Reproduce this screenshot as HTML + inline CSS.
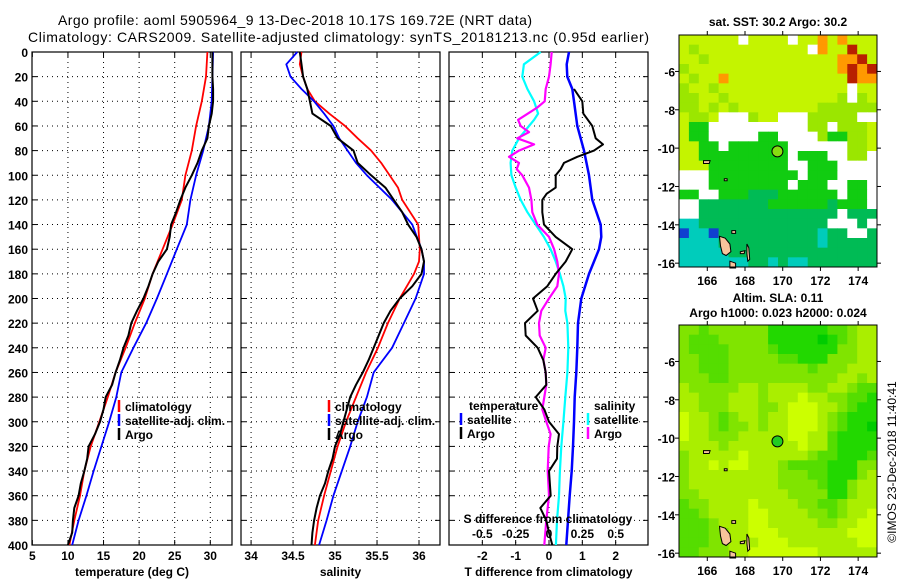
<!DOCTYPE html>
<html><head><meta charset="utf-8">
<style>
html,body{margin:0;padding:0;background:#fff;}
svg{display:block;font-family:"Liberation Sans",Arial,sans-serif;}
.t{font-size:12px;font-weight:bold;fill:#000;}
.ti{font-size:14px;fill:#000;}
</style></head>
<body>
<svg id="fig" width="900" height="580" viewBox="0 0 900 580" xmlns="http://www.w3.org/2000/svg">
<rect x="0" y="0" width="900" height="580" fill="#fff"/>
<text class="ti" x="58" y="25" textLength="474">Argo profile: aoml 5905964_9 13-Dec-2018 10.17S 169.72E (NRT data)</text>
<text class="ti" x="28" y="42" textLength="621">Climatology: CARS2009. Satellite-adjusted climatology: synTS_20181213.nc (0.95d earlier)</text>
<g id="plots"></g>
</svg>
<script>
// ---------------- data ----------------
const depthTicks = [0,20,40,60,80,100,120,140,160,180,200,220,240,260,280,300,320,340,360,380,400];
const tempTicks = [5,10,15,20,25,30];
const salTicks = [34,34.5,35,35.5,36];
const salTickLabels = ["34","34.5","35","35.5","36"];
const tdiffTicks = [-2,-1,0,1,2];
const sdiffTicks = [-0.5,-0.25,0,0.25,0.5];
const sdiffTickLabels = ["-0.5","-0.25","0","0.25","0.5"];

const climDepth = [0,20,40,60,80,100,120,140,160,180,200,220,240,260,280,300,320,340,360,380,400];
const tempClim = [29.6,29.4,28.8,28.0,27.4,26.5,26.0,24.7,23.3,21.9,20.8,19.4,18.1,16.7,15.6,14.4,13.2,12.3,11.7,10.9,10.2];
const tempSat = [30.4,30.3,30.2,29.8,29.0,28.0,27.2,26.7,25.3,23.9,22.5,21.0,19.2,17.5,16.8,15.8,14.7,13.6,12.6,11.5,10.6];
const argoDepth = [0,10,20,30,40,50,60,70,80,90,100,110,120,130,140,150,160,170,180,190,200,210,220,230,240,250,260,270,280,290,300,310,320,330,340,350,360,370,380,390,400];
const tempArgo = [30.3,30.3,30.3,30.4,30.4,30.2,29.8,29.6,28.8,28.2,27.4,26.5,25.8,25.2,24.5,24.3,23.9,22.7,21.9,21.3,20.6,19.7,18.9,18.5,17.8,17.3,16.7,16.2,15.3,15.0,14.5,13.8,12.9,12.7,12.3,11.8,11.5,10.9,10.7,10.6,10.0];

const salDepth = [0,10,20,30,40,50,60,70,80,90,100,110,120,140,160,170,180,200,220,240,260,280,300,320,340,360,380,400];
const salClim = [34.6,34.58,34.62,34.67,34.76,34.93,35.12,35.27,35.43,35.55,35.65,35.75,35.8,35.99,36.01,36.0,35.94,35.77,35.63,35.51,35.37,35.25,35.13,35.03,34.95,34.87,34.8,34.76];
const salSat = [34.55,34.42,34.47,34.6,34.75,34.87,34.98,35.05,35.15,35.25,35.38,35.53,35.68,35.92,36.03,36.06,36.06,35.96,35.82,35.68,35.46,35.38,35.27,35.18,35.08,34.98,34.9,34.81];
const salArgo = [34.58,34.6,34.62,34.67,34.7,34.73,34.95,35.03,35.22,35.27,35.43,35.6,35.7,35.8,35.87,35.97,36.03,36.06,36.03,35.92,35.77,35.66,35.58,35.52,35.46,35.4,35.33,35.25,35.18,35.14,35.1,35.06,35.0,34.97,34.92,34.88,34.82,34.78,34.75,34.73,34.72];

const tdiffSatDepth = [0,10,20,30,40,60,80,100,120,140,150,160,180,200,220,240,260,280,300,320,340,360,380,400];
const tdiffSat = [0.6,0.53,0.55,0.7,0.75,0.85,1.05,1.2,1.3,1.55,1.57,1.5,1.2,0.97,0.87,0.85,0.82,0.77,0.75,0.72,0.68,0.62,0.57,0.52];
const tdiffArgoDepth = [30,40,50,60,70,75,80,85,90,95,100,110,115,120,130,140,150,160,170,180,190,200,210,220,230,240,250,260,270,280,290,300,310,320,330,340,360,370,380,390,400];
const tdiffArgo = [0.75,1.0,1.03,1.3,1.4,1.62,1.35,0.85,0.45,0.35,0.2,0.2,-0.07,-0.2,-0.2,-0.15,0.2,0.7,0.5,0.2,-0.05,-0.48,-0.34,-0.72,-0.7,-0.34,-0.17,-0.1,-0.08,-0.4,-0.14,0,0.3,0.25,0.24,0,0.05,-0.26,-0.08,0,0.1];
const sdiffSatDepth = [0,10,20,30,40,50,55,60,70,80,90,100,110,120,130,140,150,160,170,180,190,200,210,220,240,260,280,300,320,340,360,380,400];
const sdiffSat = [-0.062,-0.188,-0.2,-0.162,-0.112,-0.082,-0.112,-0.15,-0.225,-0.275,-0.288,-0.282,-0.25,-0.212,-0.162,-0.1,-0.038,0.012,0.05,0.082,0.108,0.125,0.122,0.138,0.145,0.138,0.122,0.108,0.092,0.082,0.075,0.06,0.052];
const sdiffArgoDepth = [0,10,20,30,40,45,50,55,60,65,70,75,80,85,90,95,100,110,120,130,140,150,160,170,180,190,200,210,220,230,240,250,260,270,280,290,300,310,320,340,360,380,400];
const sdiffArgo = [0.02,0.012,0,-0.025,-0.032,-0.088,-0.158,-0.232,-0.212,-0.15,-0.238,-0.112,-0.225,-0.3,-0.225,-0.242,-0.2,-0.15,-0.132,-0.125,-0.088,0,0.038,0.062,0.075,0.062,0,-0.058,-0.075,-0.07,-0.025,-0.042,-0.025,-0.02,-0.035,-0.05,-0.02,0.012,-0.002,-0.01,0,-0.02,-0.035];

// map grids (rows north->south, cols west->east)
const sstGrid = [
"YYYYYYWYYYYWYYOYOYYY","YLYYYYYYYYYYYWOYYRYY","YYLYYYYYYYYYYYYYOORY","LYYYYYYYYYYYYYYYOROR",
"YLYYOYYYYYYYYYYYYROO","LYYLYYYYYYYYYYYYYWYY","LLYYLYYYYYYYYYYYLWLY","LLYLYLYYYYYYYYLLLLLL",
"YLLYWWWLYYWWWLLLLLWW","YGGWWWWWWWWWWLLWLLLY","YGGWWWWWGGWWWWLGGLLY","YYGGWGGGGGGWWWWWWLLY",
"YYGGGGGGGGGWGGGWWLLW","YYYGGGGGGGGWWGGGWWWW","WWWGGGGGGGGGWGGGWWWW","WWWGGGGGGGGWGGGWWGGW",
"GGWWGGGDDDGGGGGGWGGW","WWDDDDDDDGGGGGGDGGGW","WWDDDDDDDDDDDDDDWDDD","CCDDDDDDDDDDDDDWWWDW",
"BCCBDDDDDDDDDDCDDWWD","CCCCDDDDDDDDDDCDDDDD","CCCCCDDDDDDDDDDDDDDD","CCCCCCCDDCDCCDDDDDDD"];
const slaGrid = [
"MMGMMMMMMHHHHHHGGMLL","MGGGMMMMMHHHHHKHGMLL","MGGGGMMMMGHHHHHHMMLL","MMGGGMMMMMGGHHHMMMLL",
"MMGGGMMMMMMMMGMMMLLL","MMMGGMMMMMMMMMMMLLML","LMMMMMLLMLLLLMMLLMGG","LLMMMLLLMLLLYLLMMGGH",
"LLMMMLLLMMLYYYLLMGHH","YLLMGMLLMLLYYYLMGHHH","YLLMGMMLMLLYYYLMGHHK","YLLMMMLLLLLYYLLGHHHH",
"LLLLMLLLLLLLYLLGHHHH","MLLLLLYLLLLLLMGGHHHG","MLLYLYYLLLMGGGGHHHMM","MLLLLLLLLLMMMGGHHHML",
"MLLLLLLLLLMMMMGHHMLL","MMLLLLLLLLLMMMMHHMLL","GMMLLLLYLLLLMMGGMLLL","GGMLLLLYYLLLLMMGMLLY",
"GGGMLLLYYLLLLLMMLLYY","GGGMMLLYYYLLLLLLLYYY","GGGMMLLLYYYLLLLLLLYY","GGMMMLLYYYYYYYLLLLLL"];
const sstColors = {Y:"#c4f400",L:"#9be600",G:"#11cc11",D:"#00bb55",C:"#00ccbb",B:"#1040d0",O:"#ff9900",R:"#b82000",W:"#ffffff"};
const slaColors = {Y:"#ccff00",L:"#aaee00",M:"#80e400",G:"#55dd00",H:"#22d800",K:"#00cc00"};
const lonTicks = [166,168,170,172,174];
const latTicks = [-6,-8,-10,-12,-14,-16];
const argoLon = 169.72, argoLat = -10.17;

// ---------------- helpers ----------------
const NS = "http://www.w3.org/2000/svg";
const root = document.getElementById('plots');
function mk(tag, attrs, parent){
  const e = document.createElementNS(NS, tag);
  for (const k in attrs) e.setAttribute(k, attrs[k]);
  (parent||root).appendChild(e);
  return e;
}
function txt(x,y,s,anchor,cls,parent){
  const e = mk('text',{x:x,y:y,'text-anchor':anchor||'start','class':cls||'t'},parent);
  e.textContent = s; return e;
}
const Y0 = 52, Y1 = 545;
const yD = d => Y0 + (Y1-Y0)*d/400;

function panel(name, x0, x1, vmin, vmax, ticks, labels, title){
  const g = mk('g',{});
  
  
  const xs = v => x0 + (x1-x0)*(v-vmin)/(vmax-vmin);
  // grid
  depthTicks.forEach(d=>{
    if(d>0 && d<400){
      const l = mk('line',{x1:x0,x2:x1,y1:yD(d),y2:yD(d),stroke:'#000','stroke-width':1,'stroke-dasharray':'1,4'},g);
      
      
    }
    mk('line',{x1:x0,x2:x0+5,y1:yD(d),y2:yD(d),stroke:'#000'},g);
    mk('line',{x1:x1-5,x2:x1,y1:yD(d),y2:yD(d),stroke:'#000'},g);
  });
  ticks.forEach((v,i)=>{
    const x = xs(v);
    if (x>x0+2 && x<x1-2){
      const l = mk('line',{x1:x,x2:x,y1:Y0,y2:Y1,stroke:'#000','stroke-width':1,'stroke-dasharray':'1,4'},g);
      
      
    }
    mk('line',{x1:x,x2:x,y1:Y1-5,y2:Y1,stroke:'#000'},g);
    mk('line',{x1:x,x2:x,y1:Y0,y2:Y0+5,stroke:'#000'},g);
    const t = txt(x,560,labels[i],'middle','t',g);
    
    
  });
  const tt = txt((x0+x1)/2,576,title,'middle','t',g);
  
  
  const fr = mk('rect',{x:x0,y:Y0,width:x1-x0,height:Y1-Y0,fill:'none',stroke:'#000','stroke-width':1.2},g);
  
  
  return {g:g, xs:xs};
}
function series(p, depths, vals, color, w, name, scale){
  const k = scale||1;
  const pts = vals.map((v,i)=>p.xs(v*k).toFixed(1)+','+yD(depths[i]).toFixed(1)).join(' ');
  const l = mk('polyline',{points:pts,fill:'none',stroke:color,'stroke-width':w,'stroke-linejoin':'round'},p.g);
  
  
}
function legend(g, x, y, color, label, name){
  if(color){ mk('line',{x1:x,x2:x,y1:y-11,y2:y+1,stroke:color,'stroke-width':2.5},g); }
  const t = txt(x+6,y,label,'start','t',g);
  
  
}

// y labels
depthTicks.forEach(d=>{
  const t = txt(28, yD(d)+5, String(d), 'end');
  
  
});

// panel 1 temperature
const p1 = panel('temperature-panel', 32, 232, 4.95, 33.05, tempTicks, tempTicks.map(String), 'temperature (deg C)');
series(p1, climDepth, tempClim, '#f00', 1.8, 'temp-climatology-line');
series(p1, climDepth, tempSat, '#00f', 1.8, 'temp-satellite-line');
series(p1, argoDepth, tempArgo, '#000', 2, 'temp-argo-line');
legend(p1.g,119,411,'#f00','climatology','legend-climatology');
legend(p1.g,119,425,'#00f','satellite-adj. clim.','legend-satellite');
legend(p1.g,119,439,'#000','Argo','legend-argo');

// panel 2 salinity
const p2 = panel('salinity-panel', 241, 440, 33.88, 36.25, salTicks, salTickLabels, 'salinity');
series(p2, salDepth, salClim, '#f00', 1.8, 'sal-climatology-line');
series(p2, salDepth, salSat, '#00f', 1.8, 'sal-satellite-line');
series(p2, argoDepth, salArgo, '#000', 2, 'sal-argo-line');
legend(p2.g,329,411,'#f00','climatology','legend-climatology');
legend(p2.g,329,425,'#00f','satellite-adj. clim.','legend-satellite');
legend(p2.g,329,439,'#000','Argo','legend-argo');

// panel 3 differences
const p3 = panel('difference-panel', 449, 648, -3.0, 2.97, tdiffTicks, tdiffTicks.map(String), 'T difference from climatology');
series(p3, sdiffSatDepth, sdiffSat, '#0ff', 2.2, 'sdiff-satellite-line', 4);
series(p3, sdiffArgoDepth, sdiffArgo, '#f0f', 2.2, 'sdiff-argo-line', 4);
series(p3, tdiffSatDepth, tdiffSat, '#00f', 2.5, 'tdiff-satellite-line');
series(p3, tdiffArgoDepth, tdiffArgo, '#000', 2, 'tdiff-argo-line');
{ const t=txt(469,410,'temperature','start','t',p3.g);   }
{ const t=txt(594,410,'salinity','start','t',p3.g);   }
legend(p3.g,461,424,'#00f','satellite','legend-t-satellite');
legend(p3.g,461,438,'#000','Argo','legend-t-argo');
legend(p3.g,588,424,'#0ff','satellite','legend-s-satellite');
legend(p3.g,588,438,'#f0f','Argo','legend-s-argo');
{ const t=txt(548,523,'S difference from climatology','middle','t',p3.g);   }
sdiffTicks.forEach((v,i)=>{
  const t = txt(p3.xs(v*4),538,sdiffTickLabels[i],'middle','t',p3.g);
  
  
});

// ---------------- maps ----------------
function drawMap(name, grid, colors, x0, y0, x1, y1, markerFill, lonLabelY, titleLines){
  const g = mk('g',{});
  
  
  const lonMin=164.5, lonMax=175.0, latMax=-4.1, latMin=-16.2;
  const xs = lo => x0 + (x1-x0)*(lo-lonMin)/(lonMax-lonMin);
  const ys = la => y0 + (y1-y0)*(latMax-la)/(latMax-latMin);
  const rows = grid.length, cols = grid[0].length;
  const cw = (x1-x0)/cols, ch = (y1-y0)/rows;
  grid.forEach((row,r)=>{
    for(let c=0;c<cols;c++){
      const cell = mk('rect',{x:(x0+c*cw).toFixed(2),y:(y0+r*ch).toFixed(2),width:(cw+0.4).toFixed(2),height:(ch+0.4).toFixed(2),fill:colors[row[c]]},g);
      
      
    }
  });
  // islands
  const isl = [
    [[166.65,-14.6],[166.95,-14.7],[167.2,-15.0],[167.25,-15.4],[167.0,-15.6],[166.8,-15.5],[166.7,-15.1]],
    [[167.2,-15.9],[167.5,-16.0],[167.5,-16.25],[167.2,-16.25]],
    [[168.1,-15.0],[168.2,-15.2],[168.25,-15.8],[168.15,-15.9],[168.1,-15.5]],
    [[167.75,-15.4],[168.0,-15.35],[167.95,-15.5],[167.75,-15.5]],
    [[167.3,-14.3],[167.5,-14.3],[167.5,-14.45],[167.3,-14.45]],
    [[165.8,-10.65],[166.15,-10.65],[166.1,-10.8],[165.8,-10.8]],
    [[166.9,-11.6],[167.05,-11.6],[167.05,-11.7],[166.9,-11.7]]
  ];
  isl.forEach(poly=>{
    const p = mk('polygon',{points:poly.map(q=>xs(q[0]).toFixed(1)+','+ys(q[1]).toFixed(1)).join(' '),fill:'#f7c49c',stroke:'#000','stroke-width':1},g);
    
    
  });
  const m = mk('circle',{cx:xs(argoLon),cy:ys(argoLat),r:5.5,fill:markerFill,stroke:'#000','stroke-width':1},g);
  
  
  mk('rect',{x:x0,y:y0,width:x1-x0,height:y1-y0,fill:'none',stroke:'#000','stroke-width':1},g);
  lonTicks.forEach(lo=>{
    const x = xs(lo);
    mk('line',{x1:x,x2:x,y1:y1,y2:y1+4,stroke:'#000'},g);
    mk('line',{x1:x,x2:x,y1:y0-4,y2:y0,stroke:'#000'},g);
    const t = txt(x,lonLabelY,String(lo),'middle','t',g);
    
    
  });
  latTicks.forEach(la=>{
    const y = ys(la);
    mk('line',{x1:x0-4,x2:x0,y1:y,y2:y,stroke:'#000'},g);
    mk('line',{x1:x1,x2:x1+4,y1:y,y2:y,stroke:'#000'},g);
    const t = txt(x0-4,y+5,String(la),'end','t',g);
    
    
  });
  titleLines.forEach(tl=>{
    const t = txt((x0+x1)/2,tl[1],tl[0],'middle','t',g);
    
    
  });
}
drawMap('sst-map', sstGrid, sstColors, 679, 35, 877, 267, '#88dd11', 285, [['sat. SST: 30.2 Argo: 30.2',26]]);
drawMap('sla-map', slaGrid, slaColors, 679, 325, 877, 557, '#22cc22', 575, [['Altim. SLA: 0.11',302],['Argo h1000: 0.023 h2000: 0.024',317]]);

const cp = txt(0,0,'\u00A9IMOS 23-Dec-2018 11:40:41','middle','t');
cp.setAttribute('transform','translate(896,462) rotate(-90)');
cp.setAttribute('style','font-weight:normal;font-size:12px');


</script>
</body></html>
